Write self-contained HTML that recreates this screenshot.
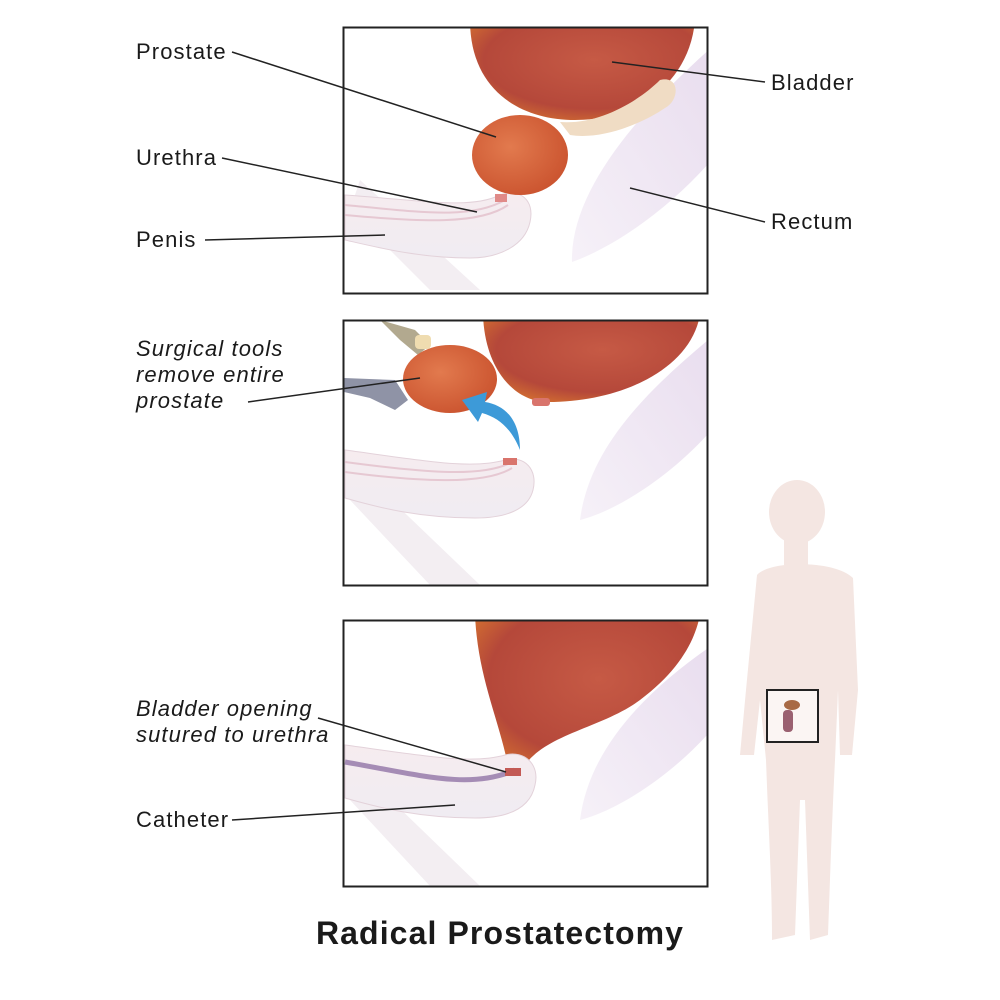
<!DOCTYPE html>
<html><head><meta charset="utf-8"><style>
html,body{margin:0;padding:0;background:#fff;}
svg{display:block;}
text{font-family:"Liberation Sans",sans-serif;font-size:22px;letter-spacing:1.1px;fill:#1a1a1a;}
.it{font-style:italic;}
</style></head><body>
<svg width="1000" height="1000" viewBox="0 0 1000 1000" xmlns="http://www.w3.org/2000/svg">
<defs>
<radialGradient id="bl" cx="0.55" cy="0.4" r="0.7"><stop offset="0" stop-color="#c65a45"/><stop offset="0.7" stop-color="#b5483a"/><stop offset="1" stop-color="#d7742f"/></radialGradient>
<radialGradient id="pr" cx="0.4" cy="0.4" r="0.7"><stop offset="0" stop-color="#e27a4e"/><stop offset="1" stop-color="#c9512d"/></radialGradient>
<linearGradient id="pe" x1="0" y1="0" x2="0" y2="1"><stop offset="0" stop-color="#f6ecef"/><stop offset="1" stop-color="#f0ecf2"/></linearGradient>
<linearGradient id="re" x1="0" y1="1" x2="1" y2="0"><stop offset="0" stop-color="#f6f1f8"/><stop offset="1" stop-color="#e8dcee"/></linearGradient>
<clipPath id="c1"><rect x="344" y="28" width="363" height="265"/></clipPath>
<clipPath id="c2"><rect x="344" y="321" width="363" height="264"/></clipPath>
<clipPath id="c3"><rect x="344" y="621" width="363" height="265"/></clipPath>
</defs>

<!-- Panel 1 -->
<g clip-path="url(#c1)">
<path d="M572,262 C570,190 640,110 720,40 L720,150 C680,200 620,245 572,262 Z" fill="url(#re)"/>
<path d="M360,180 L480,290 L430,290 L350,210Z" fill="#f3eef2"/>
<path d="M470,20 C470,90 520,120 575,120 C640,120 690,80 695,20 Z" fill="url(#bl)"/>
<path d="M560,122 C600,125 640,100 660,80 C680,75 680,100 665,108 C640,125 600,140 570,135 Z" fill="#f0dcc4"/>
<path d="M345,195 C420,200 470,210 500,195 C520,188 535,200 530,222 C525,245 500,258 470,258 C420,258 380,248 345,240 Z" fill="url(#pe)" stroke="#e3d2da"/>
<path d="M345,205 C420,212 470,220 505,200" fill="none" stroke="#e6c8d2" stroke-width="2"/>
<path d="M345,215 C420,222 480,225 508,205" fill="none" stroke="#e6c8d2" stroke-width="2"/>
<ellipse cx="520" cy="155" rx="48" ry="40" fill="url(#pr)"/>
<rect x="495" y="194" width="12" height="8" fill="#e08a88"/>
</g>
<rect x="343.5" y="27.5" width="364" height="266" fill="none" stroke="#222" stroke-width="2"/>

<!-- Panel 2 -->
<g clip-path="url(#c2)">
<path d="M580,520 C590,440 660,380 720,330 L720,420 C680,470 620,510 580,520 Z" fill="url(#re)"/>
<path d="M360,470 L480,585 L430,585 L350,500Z" fill="#f3eef2"/>
<path d="M483,315 C485,370 515,402 548,402 C620,402 690,370 700,315 Z" fill="url(#bl)"/>
<rect x="532" y="398" width="18" height="8" rx="3" fill="#d9746c"/>
<path d="M345,450 C420,460 470,470 505,460 C525,455 538,470 533,490 C528,510 505,518 475,518 C420,518 380,508 345,498 Z" fill="url(#pe)" stroke="#e3d2da"/>
<path d="M345,462 C420,472 480,478 510,463" fill="none" stroke="#e6c8d2" stroke-width="2"/>
<path d="M345,472 C420,482 485,485 512,468" fill="none" stroke="#e6c8d2" stroke-width="2"/>
<rect x="503" y="458" width="14" height="7" fill="#d9746c"/>
<path d="M344,378 L395,380 L408,400 L395,410 L370,398 L344,392Z" fill="#8f93a6"/>
<path d="M380,320 L415,330 L430,345 L418,355 L400,340Z" fill="#b2a98f"/>
<rect x="415" y="335" width="16" height="14" rx="4" fill="#efdcb0"/>
<ellipse cx="450" cy="379" rx="47" ry="34" fill="url(#pr)"/>
<path d="M520,450 C520,420 505,405 485,402 L487,392 L462,400 L478,422 L482,413 C500,418 512,430 520,450Z" fill="#3d9ad8"/>
</g>
<rect x="343.5" y="320.5" width="364" height="265" fill="none" stroke="#222" stroke-width="2"/>

<!-- Panel 3 -->
<g clip-path="url(#c3)">
<path d="M580,820 C590,740 660,680 720,640 L720,720 C680,770 620,810 580,820 Z" fill="url(#re)"/>
<path d="M360,770 L480,886 L430,886 L350,800Z" fill="#f3eef2"/>
<path d="M475,615 C478,680 500,720 510,775 L520,775 C535,735 600,730 640,700 C680,670 695,640 700,615 Z" fill="url(#bl)"/>
<path d="M345,745 C420,755 470,765 505,755 C525,750 540,765 535,785 C530,810 505,818 475,818 C420,818 380,808 345,798 Z" fill="url(#pe)" stroke="#e3d2da"/>
<path d="M345,762 C420,775 470,790 515,770" fill="none" stroke="#a58cb5" stroke-width="5"/>
<rect x="505" y="768" width="16" height="8" fill="#c35a55"/>
</g>
<rect x="343.5" y="620.5" width="364" height="266" fill="none" stroke="#222" stroke-width="2"/>

<!-- Leader lines -->
<g stroke="#222" stroke-width="1.5" fill="none">
<line x1="232" y1="52" x2="496" y2="137"/>
<line x1="222" y1="158" x2="477" y2="212"/>
<line x1="205" y1="240" x2="385" y2="235"/>
<line x1="612" y1="62" x2="765" y2="82"/>
<line x1="630" y1="188" x2="765" y2="222"/>
<line x1="248" y1="402" x2="420" y2="378"/>
<line x1="318" y1="718" x2="506" y2="772"/>
<line x1="232" y1="820" x2="455" y2="805"/>
</g>

<!-- Labels -->
<text x="136" y="59">Prostate</text>
<text x="136" y="165">Urethra</text>
<text x="136" y="247">Penis</text>
<text x="771" y="90">Bladder</text>
<text x="771" y="229">Rectum</text>
<text x="136" y="356" class="it">Surgical tools</text>
<text x="136" y="382" class="it">remove entire</text>
<text x="136" y="408" class="it">prostate</text>
<text x="136" y="716" class="it">Bladder opening</text>
<text x="136" y="742" class="it">sutured to urethra</text>
<text x="136" y="827">Catheter</text>
<text x="500" y="944" text-anchor="middle" style="font-size:32px;font-weight:bold;letter-spacing:1.1px;">Radical Prostatectomy</text>

<!-- Body figure -->
<g fill="#f4e6e2">
<ellipse cx="797" cy="512" rx="28" ry="32"/>
<rect x="784" y="535" width="24" height="30"/>
<path d="M757,575 C770,560 835,560 853,578 L858,690 L852,755 L840,755 L838,690 L835,760 C832,820 830,880 828,935 L810,940 L805,800 L800,800 L795,935 L772,940 C772,880 768,820 766,760 L760,700 L754,755 L740,755 L746,690 Z"/>
</g>
<rect x="767" y="690" width="51" height="52" fill="#fbf5f3" stroke="#222" stroke-width="2"/>
<ellipse cx="792" cy="705" rx="8" ry="5" fill="#a86a45"/>
<rect x="783" y="710" width="10" height="22" rx="4" fill="#9a6070"/>
</svg>
</body></html>
